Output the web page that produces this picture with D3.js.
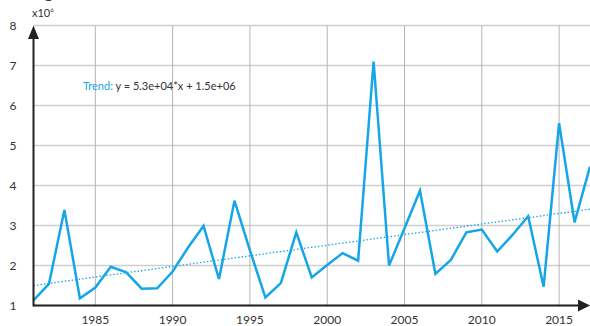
<!DOCTYPE html>
<html>
<head>
<meta charset="utf-8">
<script src="https://cdn.jsdelivr.net/npm/d3@7"></script>
<style>
  body { margin: 0; background: #fff; }
  text { font-family: Lato, "Open Sans", sans-serif; fill: #333; }
</style>
</head>
<body>
<svg id="chart" width="590" height="326"></svg>
<script>
// values in millions
var years = d3.range(1981, 2018);
var values = [1.13, 1.54, 3.39, 1.18, 1.45, 1.97, 1.83, 1.42, 1.43, 1.85,
              2.45, 2.99, 1.66, 3.62, 2.38, 1.2, 1.56, 2.83, 1.7, 2.01,
              2.31, 2.12, 7.1, 2.0, 2.93, 3.87, 1.79, 2.14, 2.83, 2.9,
              2.35, 2.77, 3.23, 1.47, 5.56, 3.08, 4.47];
var yTicks = [1, 2, 3, 4, 5, 6, 7, 8];
var xTicks = [1985, 1990, 1995, 2000, 2005, 2010, 2015];
var trendSlope = 0.053, trendIntercept = 1.5; // per year index, millions

var svg = d3.select("#chart"),
    width = +svg.attr("width"),
    height = +svg.attr("height");

var x = d3.scaleLinear().domain([1981, 2017]).range([33.5, 590]);
var y = d3.scaleLinear().domain([1, 8]).range([305.5, 25.5]);

var blue = "#16a6e8";

// title, cut off at the top
svg.append("text").attr("x", 44).attr("y", -2)
  .attr("font-size", "18px").text("g");

// grid
svg.append("g").selectAll("line").data(yTicks).enter().append("line")
  .attr("x1", x(1981)).attr("x2", width)
  .attr("y1", d => y(d)).attr("y2", d => y(d))
  .attr("stroke", "#cfcfcf").attr("stroke-width", 1.5);

svg.append("g").selectAll("line").data(xTicks).enter().append("line")
  .attr("x1", d => x(d)).attr("x2", d => x(d))
  .attr("y1", y(8)).attr("y2", y(1))
  .attr("stroke", "#b5b5b5").attr("stroke-width", 1);

// trend
svg.append("line")
  .attr("x1", x(1981)).attr("y1", y(trendIntercept))
  .attr("x2", x(2017)).attr("y2", y(trendIntercept + trendSlope * (2017 - 1981)))
  .attr("stroke", blue).attr("stroke-width", 1.3)
  .attr("stroke-dasharray", "1.5,2");

// series
var line = d3.line()
  .x((d, i) => x(years[i]))
  .y(d => y(d));

svg.append("path")
  .datum(values)
  .attr("d", line)
  .attr("fill", "none")
  .attr("stroke", blue)
  .attr("stroke-width", 2.5)
  .attr("stroke-linejoin", "miter");

// axes with arrows
svg.append("line")
  .attr("x1", x(1981)).attr("x2", 582)
  .attr("y1", y(1)).attr("y2", y(1))
  .attr("stroke", "#222").attr("stroke-width", 2);
svg.append("path")
  .attr("d", "M" + width + "," + y(1) + "L578," + (y(1) - 6) + "L578," + (y(1) + 6) + "Z")
  .attr("fill", "#222");

svg.append("line")
  .attr("x1", x(1981)).attr("x2", x(1981))
  .attr("y1", y(1) + 1).attr("y2", 36)
  .attr("stroke", "#222").attr("stroke-width", 2);
svg.append("path")
  .attr("d", "M" + x(1981) + "," + y(8) + "L" + (x(1981) - 5.5) + ",39L" + (x(1981) + 5.5) + ",39Z")
  .attr("fill", "#222");

// tick labels
svg.append("g").selectAll("text").data(yTicks).enter().append("text")
  .attr("x", 13).attr("y", d => y(d)).attr("dy", "0.36em")
  .attr("text-anchor", "middle").attr("font-size", "12px")
  .text(d => d);

svg.append("g").selectAll("text").data(xTicks).enter().append("text")
  .attr("x", d => x(d)).attr("y", 324)
  .attr("text-anchor", "middle").attr("font-size", "12px")
  .text(d => d);

var unit = svg.append("text").attr("x", 32).attr("y", 17).attr("font-size", "11px");
unit.append("tspan").text("x10");
unit.append("tspan").attr("font-size", "6px").attr("dy", "-5").text("6");

// trend label
var tl = svg.append("text").attr("x", 83).attr("y", 90).attr("font-size", "11px");
tl.append("tspan").style("fill", blue).text("Trend: ");
tl.append("tspan").text("y = 5.3e+04*x + 1.5e+06");
</script>
</body>
</html>
